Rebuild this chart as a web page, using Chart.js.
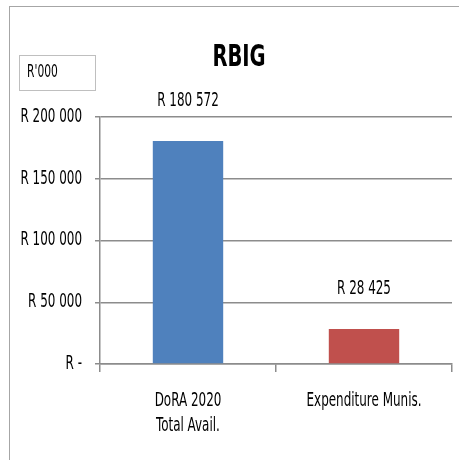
<!DOCTYPE html>
<html>
<head>
<meta charset="utf-8">
<title>RBIG</title>
<script src="https://cdn.jsdelivr.net/npm/chart.js@4.4.1/dist/chart.umd.min.js"></script>
<style>
    html, body { margin: 0; padding: 0; background: #fff; overflow: hidden; }
    #wrap { position: relative; width: 459px; height: 460px; }
    #frame {
        position: absolute; left: 9px; top: 6px; width: 470px; height: 470px;
        border: 1px solid #a6a6a6; box-sizing: border-box;
    }
    canvas { position: absolute; left: 0; top: 0; }
</style>
</head>
<body>
<div id="wrap">
    <div id="frame"></div>
    <canvas id="rbig-chart" width="459" height="460"></canvas>
</div>
<script>
const chartTitle = 'RBIG';
const unitLabel = "R'000";
const categories = [['DoRA 2020', 'Total Avail.'], ['Expenditure Munis.']];
const amounts = [180572, 28425];
const barColours = ['#4f81bd', '#c0504d'];
const axisMax = 200000;
const axisStep = 50000;

const narrow = "'Liberation Sans Narrow', 'DejaVu Sans Condensed', sans-serif";
// all text is set in a tall, condensed face
const squash = 0.7;

function rands(v) {
    if (v === 0) return 'R -';
    return 'R ' + String(Math.round(v)).replace(/\B(?=(\d{3})+(?!\d))/g, ' ');
}

function squashedText(ctx, text, x, y, font, align) {
    ctx.save();
    ctx.font = font;
    ctx.textAlign = align;
    ctx.textBaseline = 'middle';
    ctx.fillStyle = '#000';
    ctx.translate(x, y);
    ctx.scale(squash, 1);
    ctx.fillText(text, 0, 0);
    ctx.restore();
}

// title, unit box, axis labels and value labels
const decorations = {
    id: 'decorations',
    afterDatasetsDraw(chart) {
        const ctx = chart.ctx;
        const xs = chart.scales.x;
        const ys = chart.scales.y;

        squashedText(ctx, chartTitle, 239, 58, 'bold 31px ' + narrow, 'center');

        ctx.save();
        ctx.strokeStyle = '#bfbfbf';
        ctx.lineWidth = 1;
        ctx.strokeRect(19.5, 55.5, 76, 35);
        ctx.restore();
        squashedText(ctx, unitLabel, 27, 73, '17px ' + narrow, 'left');

        ys.ticks.forEach((t) => {
            squashedText(ctx, rands(t.value), 82, ys.getPixelForValue(t.value), '19px ' + narrow, 'right');
        });

        categories.forEach((lines, i) => {
            const cx = xs.getPixelForValue(i);
            lines.forEach((line, j) => {
                squashedText(ctx, line, cx, 401 + j * 25, '19px ' + narrow, 'center');
            });
        });

        chart.getDatasetMeta(0).data.forEach((bar, i) => {
            squashedText(ctx, rands(amounts[i]), bar.x, bar.y - 40, '19px ' + narrow, 'center');
        });
    }
};

new Chart(document.getElementById('rbig-chart'), {
    type: 'bar',
    data: {
        labels: categories.map((c) => c.join(' ')),
        datasets: [{
            data: amounts,
            backgroundColor: barColours,
            borderWidth: 0,
            barPercentage: 0.4,
            categoryPercentage: 1
        }]
    },
    options: {
        responsive: false,
        animation: false,
        events: [],
        layout: { padding: { top: 117, right: 7, left: 0, bottom: 0 } },
        plugins: {
            legend: { display: false },
            title: { display: false },
            tooltip: { enabled: false }
        },
        scales: {
            y: {
                min: 0,
                max: axisMax,
                afterFit(scale) { scale.width = 100; },
                ticks: { stepSize: axisStep, display: false },
                grid: { color: '#8c8c8c', lineWidth: 1.5, tickLength: 5 },
                border: { color: '#8c8c8c', width: 1.5 }
            },
            x: {
                afterFit(scale) { scale.height = 96; },
                ticks: { display: false },
                grid: {
                    color: '#8c8c8c', lineWidth: 1.5,
                    drawOnChartArea: false, tickLength: 8
                },
                border: { color: '#8c8c8c', width: 1.5 }
            }
        }
    },
    plugins: [decorations]
});
</script>
</body>
</html>
